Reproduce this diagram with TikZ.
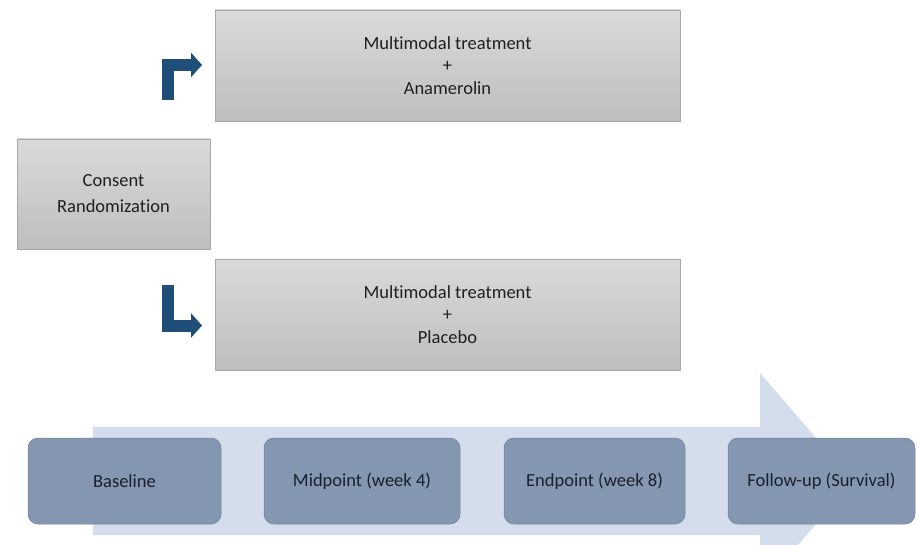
\documentclass[tikz,border=0pt]{standalone}
\usepackage{fontspec}
\setmainfont{Carlito}[Ligatures=NoCommon]
\usetikzlibrary{arrows.meta}
\definecolor{bararrow}{HTML}{1F4E79}
\definecolor{timeline}{HTML}{D3DDEC}
\definecolor{stagefill}{HTML}{8496B0}
\definecolor{stagetext}{HTML}{1A202B}
\definecolor{graytop}{HTML}{DADADA}
\definecolor{graybot}{HTML}{BEBEBE}
\definecolor{grayedge}{HTML}{A8A8A8}
\tikzset{
  graybox/.style={draw=grayedge, line width=0.8pt, top color=graytop, bottom color=graybot,
    minimum width=#1, align=center, inner sep=0pt, font=\fontsize{18.5}{22.5}\selectfont, text=black!88},
  stagebox/.style={draw=stagefill!85!black, line width=0.5pt, fill=stagefill, rounded corners=10pt,
    minimum width=#1, minimum height=86pt, inner sep=0pt, font=\fontsize{18.5}{20}\selectfont, text=stagetext},
  bentarrow/.style={draw=bararrow, line width=12pt, line join=miter, line cap=butt,
    -{Triangle[width=24pt,length=11pt]}},
}
\begin{document}
\begin{tikzpicture}[x=1pt,y=-1pt]
\useasboundingbox (0,0) rectangle (917,545);
\fill[white] (0,0) rectangle (917,545);
% big timeline arrow
\begin{scope}
\clip (0,0) rectangle (917,545);
\fill[timeline] (93,427) -- (760,427) -- (760,373) -- (853,481) -- (760,589) -- (760,535) -- (93,535) -- cycle;
\end{scope}
% gray boxes
\node[graybox=465pt, minimum height=111pt] (top) at (447.5,65.5)
  {Multimodal treatment\\+\\Anamerolin};
\node[graybox=193pt, minimum height=110pt, font=\fontsize{18.5}{26}\selectfont] (consent) at (113.5,194)
  {Consent\\Randomization};
\node[graybox=465pt, minimum height=111pt] (bottom) at (447.5,314.5)
  {Multimodal treatment\\+\\Placebo};
% bent arrows
\coordinate (upstart) at (167.5,100);
\coordinate (upend) at (202,65);
\coordinate (downstart) at (167.5,285);
\coordinate (downend) at (202,325.5);
\draw[bentarrow] (upstart) |- (upend);
\draw[bentarrow] (downstart) |- (downend);
% stages
\node[stagebox=193pt] (baseline) at (124.5,481) {Baseline};
\node[stagebox=196pt] (mid) at (362,481) {Midpoint (week 4)};
\node[stagebox=181pt] (endp) at (594.5,481) {Endpoint (week 8)};
\node[stagebox=187pt] (follow) at (821.5,481) {Follow-up (Survival)};
\end{tikzpicture}
\end{document}
